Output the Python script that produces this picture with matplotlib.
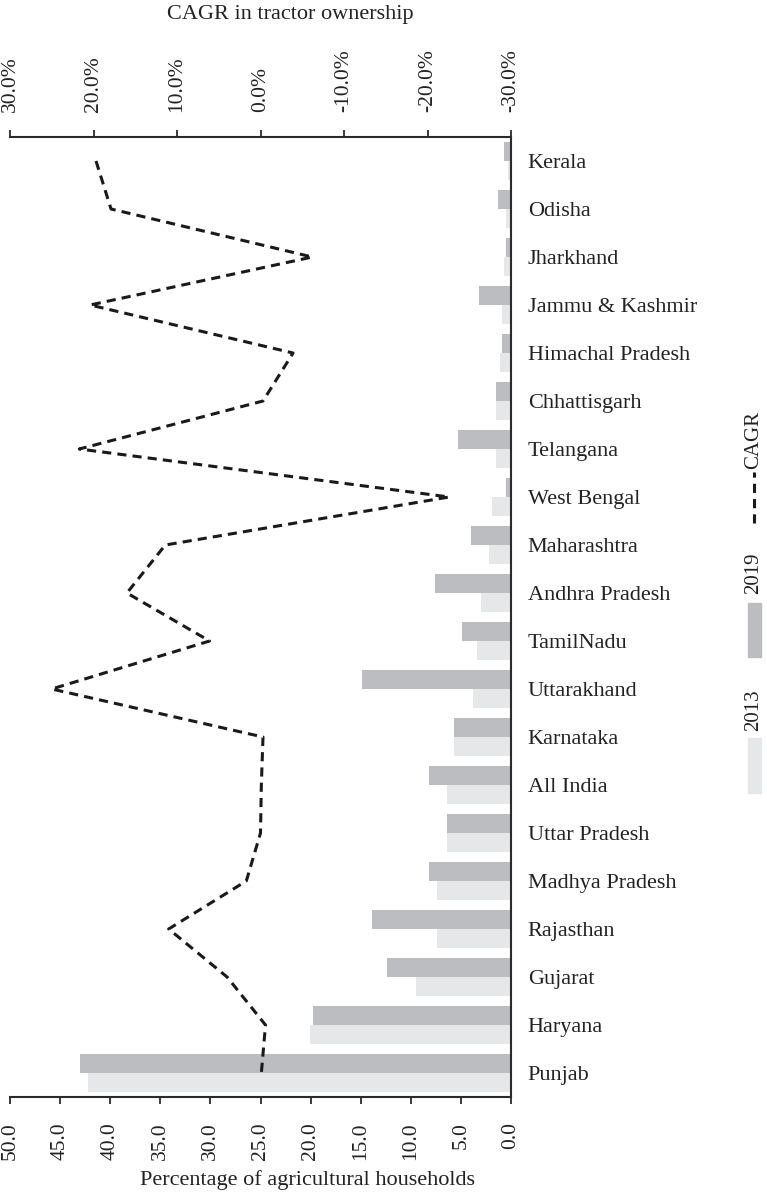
import numpy as np
import matplotlib
matplotlib.use("Agg")
import matplotlib.pyplot as plt
from matplotlib.patches import Rectangle
from matplotlib.lines import Line2D
from matplotlib.ticker import FuncFormatter

states = ["Kerala", "Odisha", "Jharkhand", "Jammu & Kashmir", "Himachal Pradesh",
          "Chhattisgarh", "Telangana", "West Bengal", "Maharashtra", "Andhra Pradesh",
          "TamilNadu", "Uttarakhand", "Karnataka", "All India", "Uttar Pradesh",
          "Madhya Pradesh", "Rajasthan", "Gujarat", "Haryana", "Punjab"]
pct_2019 = [0.7, 1.3, 0.5, 3.2, 0.9, 1.5, 5.3, 0.5, 4.0, 7.6,
            4.9, 14.9, 5.7, 8.2, 6.4, 8.2, 13.9, 12.4, 19.8, 43.0]
pct_2013 = [0.3, 0.5, 0.7, 0.9, 1.1, 1.5, 1.5, 1.9, 2.2, 3.0,
            3.4, 3.8, 5.7, 6.4, 6.4, 7.4, 7.4, 9.5, 20.1, 42.2]
cagr = [19.7, 17.9, -6.2, 20.4, -3.9, -0.3, 21.7, -22.6, 11.4, 16.0,
        6.1, 25.0, -0.3, -0.1, 0.0, 1.7, 11.0, 4.0, -0.6, -0.1]

plt.rcParams['font.family'] = ['Liberation Serif', 'DejaVu Serif']
plt.rcParams['text.color'] = '#222222'

W, H = 767, 1199
fig = plt.figure(figsize=(W / 100, H / 100), dpi=100)
ax = fig.add_axes([10 / W, 1 - 1097 / H, 501 / W, 960 / H])

dark = '#bcbdc0'
light = '#e6e7e8'
spine_c = '#2b2b2b'
txt_c = '#222222'

y = np.arange(len(states))
ax.barh(y - 0.2, pct_2019, height=0.4, color=dark)
ax.barh(y + 0.2, pct_2013, height=0.4, color=light)
ax.set_xlim(50, 0)
ax.set_ylim(len(states) - 0.5, -0.5)
ax.set_xticks(np.arange(0, 50.1, 5))
ax.xaxis.set_major_formatter(FuncFormatter(lambda v, p: f"{v:.1f}"))
ax.tick_params(axis='x', direction='out', length=5, width=1.3, color=spine_c,
               pad=13, labelsize=15.5, labelrotation=90, labelcolor=txt_c)
ax.yaxis.tick_right()
ax.set_yticks(y)
ax.set_yticklabels(states)
ax.tick_params(axis='y', length=0, pad=12, labelsize=16, labelcolor=txt_c)

for s in ['left', 'top']:
    ax.spines[s].set_visible(False)
for s in ['bottom', 'right']:
    ax.spines[s].set_color(spine_c)
    ax.spines[s].set_linewidth(1.5)

# CAGR on top axis
ax2 = ax.twiny()
ax2.plot(cagr, y, color='#1a1a1a', lw=2.2, ls=(0, (3, 2)))
ax2.set_xlim(30, -30)
ax2.set_xticks(np.arange(-30, 30.1, 10))
ax2.xaxis.set_major_formatter(FuncFormatter(lambda v, p: f"{v:.1f}%"))
ax2.tick_params(axis='x', direction='out', length=5, width=1.3, color=spine_c,
                pad=13, labelsize=15.5, labelrotation=90, labelcolor=txt_c)
for s in ['left', 'bottom', 'right']:
    ax2.spines[s].set_visible(False)
ax2.spines['top'].set_color(spine_c)
ax2.spines['top'].set_linewidth(1.5)

fig.text(290 / W, 1 - 15 / H, "CAGR in tractor ownership", ha='center', va='center',
         fontsize=16)
fig.text(308 / W, 1 - 1180 / H, "Percentage of agricultural households", ha='center',
         va='center', fontsize=16)


# legend (rotated), drawn in figure pixels
def fx(px):
    return px / W


def fy(py):
    return 1 - py / H


fig.patches.append(Rectangle((fx(748), fy(793)), 13 / W, 55 / H, color=light,
                             transform=fig.transFigure))
fig.patches.append(Rectangle((fx(748), fy(657)), 13 / W, 54 / H, color=dark,
                             transform=fig.transFigure))
fig.lines.append(Line2D([fx(754), fx(754)], [fy(523), fy(472)], color='#1a1a1a',
                        lw=2.2, ls=(0, (3, 2)), transform=fig.transFigure))
fig.text(fx(754), fy(710), "2013", rotation=90, ha='center', va='center', fontsize=15)
fig.text(fx(754), fy(573), "2019", rotation=90, ha='center', va='center', fontsize=15)
fig.text(fx(754), fy(440), "CAGR", rotation=90, ha='center', va='center', fontsize=15)

fig.savefig("out.png", dpi=100)
